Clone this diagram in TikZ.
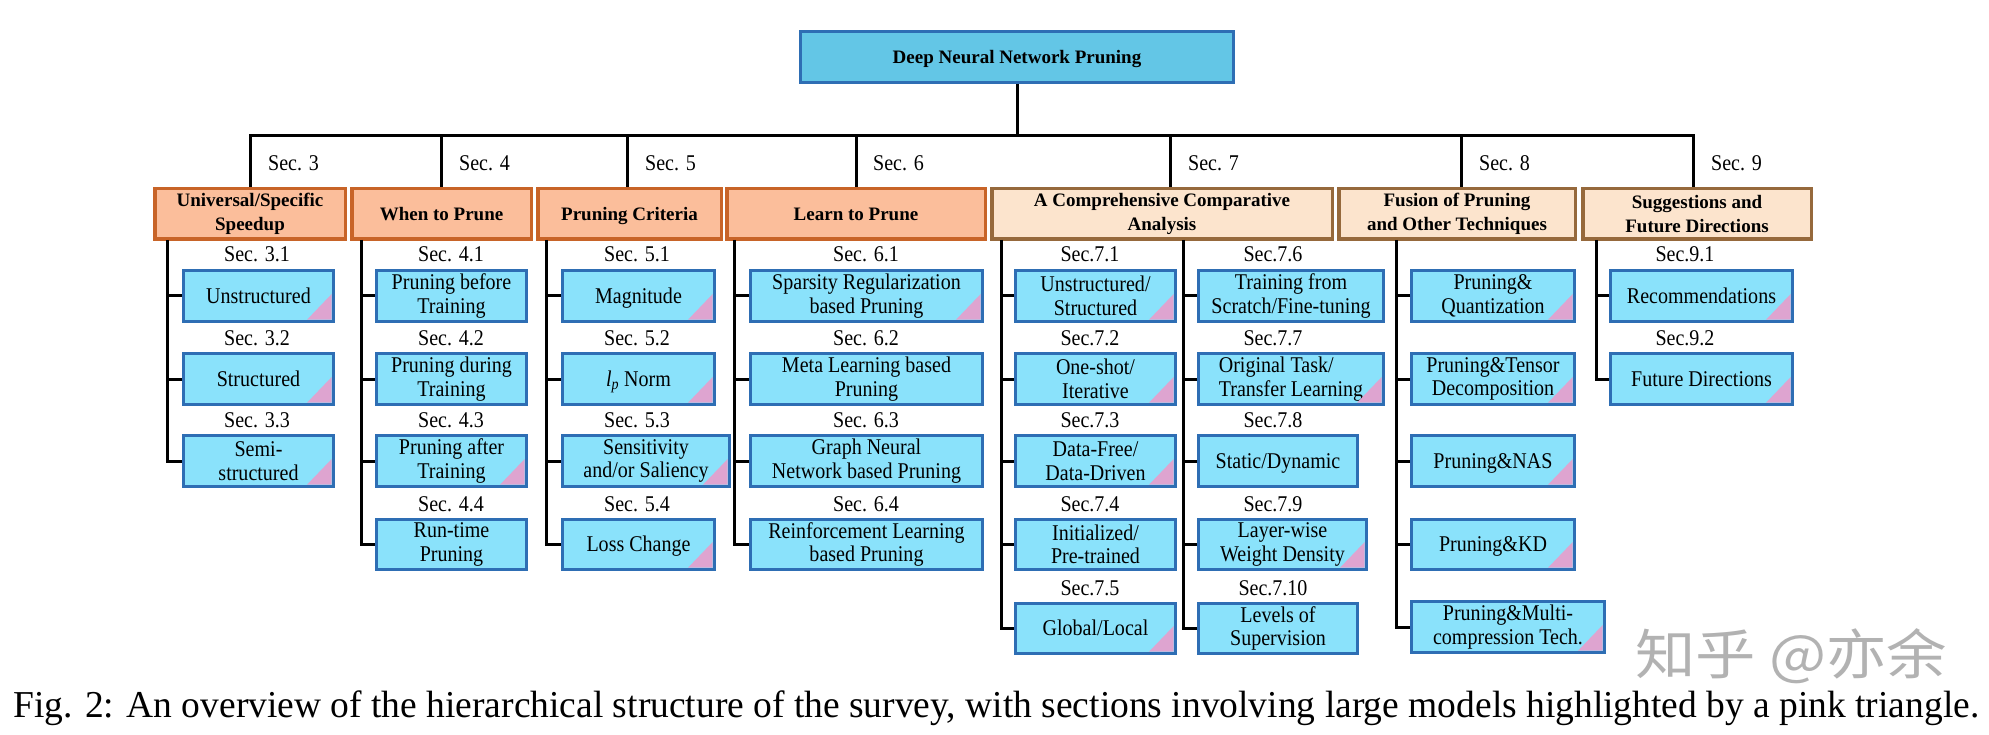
\documentclass[tikz,border=0pt]{standalone}
\usepackage{fontspec}
\usepackage{graphicx}
\setmainfont{Liberation Serif}
\newfontfamily\cf[FakeStretch=0.89]{Liberation Serif}
\newfontfamily\cjk{Noto Sans CJK SC}
\usetikzlibrary{calc}
\definecolor{cfill}{RGB}{138,226,251}
\definecolor{cbord}{RGB}{46,110,180}
\definecolor{rfill}{RGB}{99,198,230}
\definecolor{hafill}{RGB}{251,190,155}
\definecolor{habord}{RGB}{200,100,40}
\definecolor{hbfill}{RGB}{252,228,205}
\definecolor{hbbord}{RGB}{150,105,60}
\definecolor{tricol}{RGB}{222,164,208}
\tikzset{
  child/.style={draw=cbord, fill=cfill, line width=3.3pt, inner sep=0pt, align=center,
    font=\cf\fontsize{22.5}{23.5}\selectfont},
  one/.style={text height=15.5pt, text depth=1pt},
  seclab/.style={anchor=base, inner sep=0pt, font=\cf\fontsize{22.5}{24}\selectfont},
  toplab/.style={anchor=base west, inner sep=0pt, font=\cf\fontsize{22.5}{24}\selectfont},
  hdra/.style={draw=habord, fill=hafill, line width=3.5pt, inner sep=0pt, align=center,
    font=\bfseries\fontsize{19}{24}\selectfont},
  hdrb/.style={hdra, draw=hbbord, fill=hbfill},
  hone/.style={text height=13pt, text depth=0pt},
  rootbox/.style={draw=cbord, fill=rfill, line width=3pt, inner sep=0pt,
    font=\bfseries\fontsize{19}{24}\selectfont},
  conn/.style={line width=3pt, black}
}
% child box: [opts]{name}{left}{right}{top}{bottom}{text}
\newcommand\cbx[7][]{\node[child,#1,minimum width={#4-#3-3.3},minimum height={#6-#5-3.3}] (#2) at ({(#3+#4)/2},{(#5+#6)/2}) {#7};}
% header box: [style]{name}{left}{right}{text}
\newcommand\hbx[5][hdra]{\node[#1,minimum width={#4-#3-3.5},minimum height={50.5}] (#2) at ({(#3+#4)/2},214) {#5};}
\newcommand\ptri[1]{\fill[tricol] ([shift={(-28pt,3.3pt)}]#1.south east) -- ([shift={(-3.3pt,3.3pt)}]#1.south east) -- ([shift={(-3.3pt,29pt)}]#1.south east) -- cycle;}
\newcommand\seclbl[4]{\node[seclab] (#1) at (#2,#3) {#4};}
\begin{document}
\begin{tikzpicture}[x=1pt,y=-1pt]
\useasboundingbox (0,0) rectangle (1989,735);
\fill[white] (0,0) rectangle (1989,735);

% root
\node[rootbox, hone, minimum width=433, minimum height=51] (root) at (1017,57) {Deep Neural Network Pruning};

% headers
\hbx{h1}{153}{347}{Universal/Specific\\Speedup}
\hbx[hdra,hone]{h2}{350}{533}{When to Prune}
\hbx[hdra,hone]{h3}{536}{723}{Pruning Criteria}
\hbx[hdra,hone]{h4}{725}{987}{Learn to Prune}
\hbx[hdrb]{h5}{990}{1334}{A Comprehensive Comparative\\Analysis}
\hbx[hdrb]{h6}{1337}{1577}{Fusion of Pruning\\and Other Techniques}
\hbx[hdrb]{h7}{1581}{1813}{Suggestions and\\Future Directions}

% top connectors
\coordinate (hb) at (0,136);
\draw[conn] (root.south) -- (root.south |- hb);
\draw[conn] (h1.north) -- (h1.north |- hb) -- ([xshift=-4pt]h7.north |- hb) -- ([xshift=-4pt]h7.north);
\draw[conn] (h2.north) -- (h2.north |- hb);
\draw[conn] ([xshift=-2pt]h3.north) -- ([xshift=-2pt]h3.north |- hb);
\draw[conn] (h4.north) -- (h4.north |- hb);
\draw[conn] ([xshift=8pt]h5.north) -- ([xshift=8pt]h5.north |- hb);
\draw[conn] ([xshift=4pt]h6.north) -- ([xshift=4pt]h6.north |- hb);

\node[toplab] (s3) at (268,171) {Sec. 3};
\node[toplab] (s4) at (459,171) {Sec. 4};
\node[toplab] (s5) at (645,171) {Sec. 5};
\node[toplab] (s6) at (873,171) {Sec. 6};
\node[toplab] (s7) at (1188,171) {Sec. 7};
\node[toplab] (s8) at (1479,171) {Sec. 8};
\node[toplab] (s9) at (1711,171) {Sec. 9};

% column 1
\seclbl{l31}{257}{262}{Sec. 3.1}
\seclbl{l32}{257}{345}{Sec. 3.2}
\seclbl{l33}{257}{427}{Sec. 3.3}
\cbx[one]{c11}{182}{335}{269}{323}{Unstructured}
\cbx[one]{c12}{182}{335}{352}{406}{Structured}
\cbx{c13}{182}{335}{434}{488}{Semi-\\structured}
\ptri{c11}\ptri{c12}\ptri{c13}

% column 2
\seclbl{l41}{451}{262}{Sec. 4.1}
\seclbl{l42}{451}{345}{Sec. 4.2}
\seclbl{l43}{451}{427}{Sec. 4.3}
\seclbl{l44}{451}{511}{Sec. 4.4}
\cbx{c21}{375}{528}{269}{323}{Pruning before\\Training}
\cbx{c22}{375}{528}{352}{406}{Pruning during\\Training}
\cbx{c23}{375}{528}{434}{488}{Pruning after\\Training}
\cbx{c24}{375}{528}{518}{571}{Run-time\\Pruning}
\ptri{c23}

% column 3
\seclbl{l51}{637}{262}{Sec. 5.1}
\seclbl{l52}{637}{345}{Sec. 5.2}
\seclbl{l53}{637}{427}{Sec. 5.3}
\seclbl{l54}{637}{511}{Sec. 5.4}
\cbx[one]{c31}{561}{716}{269}{323}{Magnitude}
\cbx[one]{c32}{561}{716}{352}{406}{\textit{l}\textsubscript{\textit{p}} Norm}
\cbx{c33}{561}{731}{434}{488}{Sensitivity\\and/or Saliency}
\cbx[one]{c34}{561}{716}{518}{571}{Loss Change}
\ptri{c31}\ptri{c32}\ptri{c33}\ptri{c34}

% column 4
\seclbl{l61}{866}{262}{Sec. 6.1}
\seclbl{l62}{866}{345}{Sec. 6.2}
\seclbl{l63}{866}{427}{Sec. 6.3}
\seclbl{l64}{866}{511}{Sec. 6.4}
\cbx{c41}{749}{984}{269}{323}{Sparsity Regularization\\based Pruning}
\cbx{c42}{749}{984}{352}{406}{Meta Learning based\\Pruning}
\cbx{c43}{749}{984}{434}{488}{Graph Neural\\Network based Pruning}
\cbx{c44}{749}{984}{518}{571}{Reinforcement Learning\\based Pruning}
\ptri{c41}

% column 5a
\seclbl{l71}{1090}{262}{Sec.7.1}
\seclbl{l72}{1090}{345}{Sec.7.2}
\seclbl{l73}{1090}{427}{Sec.7.3}
\seclbl{l74}{1090}{511}{Sec.7.4}
\seclbl{l75}{1090}{595}{Sec.7.5}
\cbx{c51}{1014}{1177}{269}{323}{Unstructured/\\Structured}
\cbx{c52}{1014}{1177}{352}{406}{One-shot/\\Iterative}
\cbx{c53}{1014}{1177}{434}{488}{Data-Free/\\Data-Driven}
\cbx{c54}{1014}{1177}{518}{571}{Initialized/\\Pre-trained}
\cbx[one]{c55}{1014}{1177}{602}{655}{Global/Local}
\ptri{c51}\ptri{c52}\ptri{c53}\ptri{c55}

% column 5b
\seclbl{l76}{1273}{262}{Sec.7.6}
\seclbl{l77}{1273}{345}{Sec.7.7}
\seclbl{l78}{1273}{427}{Sec.7.8}
\seclbl{l79}{1273}{511}{Sec.7.9}
\seclbl{l710}{1273}{595}{Sec.7.10}
\cbx{c56}{1197}{1385}{269}{323}{Training from\\Scratch/Fine-tuning}
\cbx[align=left]{c57}{1197}{1385}{352}{406}{Original Task/\\Transfer Learning}
\cbx[one]{c58}{1197}{1359}{434}{488}{Static/Dynamic}
\cbx{c59}{1197}{1368}{518}{571}{Layer-wise\\Weight Density}
\cbx{c510}{1197}{1359}{602}{655}{Levels of\\Supervision}
\ptri{c57}\ptri{c59}

% column 6
\cbx{c61}{1410}{1576}{269}{323}{Pruning\&\\Quantization}
\cbx{c62}{1410}{1576}{352}{406}{Pruning\&Tensor\\Decomposition}
\cbx[one]{c63}{1410}{1576}{434}{488}{Pruning\&NAS}
\cbx[one]{c64}{1410}{1576}{518}{571}{Pruning\&KD}
\cbx{c65}{1410}{1606}{600}{654}{Pruning\&Multi-\\compression Tech.}
\ptri{c61}\ptri{c62}\ptri{c63}\ptri{c64}\ptri{c65}

% column 7
\seclbl{l91}{1685}{262}{Sec.9.1}
\seclbl{l92}{1685}{345}{Sec.9.2}
\cbx[one]{c71}{1609}{1794}{269}{323}{Recommendations}
\cbx[one]{c72}{1609}{1794}{352}{406}{Future Directions}
\ptri{c71}\ptri{c72}

% column connectors
\coordinate (v1) at (167,0);
\coordinate (v2) at (361,0);
\coordinate (v3) at (546,0);
\coordinate (v4) at (734,0);
\coordinate (v5) at (1001,0);
\coordinate (v6) at (1183,0);
\coordinate (v7) at (1396,0);
\coordinate (v8) at (1596,0);
\draw[conn] ([yshift=1pt]h1.south -| v1) |- (c13.west);
\foreach \n in {c11,c12} \draw[conn] (\n.west) -- (\n.west -| v1);
\draw[conn] ([yshift=1pt]h2.south -| v2) |- (c24.west);
\foreach \n in {c21,c22,c23} \draw[conn] (\n.west) -- (\n.west -| v2);
\draw[conn] ([yshift=1pt]h3.south -| v3) |- (c34.west);
\foreach \n in {c31,c32,c33} \draw[conn] (\n.west) -- (\n.west -| v3);
\draw[conn] ([yshift=1pt]h4.south -| v4) |- (c44.west);
\foreach \n in {c41,c42,c43} \draw[conn] (\n.west) -- (\n.west -| v4);
\draw[conn] ([yshift=1pt]h5.south -| v5) |- (c55.west);
\foreach \n in {c51,c52,c53,c54} \draw[conn] (\n.west) -- (\n.west -| v5);
\draw[conn] ([yshift=1pt]h5.south -| v6) |- (c510.west);
\foreach \n in {c56,c57,c58,c59} \draw[conn] (\n.west) -- (\n.west -| v6);
\draw[conn] ([yshift=1pt]h6.south -| v7) |- (c65.west);
\foreach \n in {c61,c62,c63,c64} \draw[conn] (\n.west) -- (\n.west -| v7);
\draw[conn] ([yshift=1pt]h7.south -| v8) |- (c72.west);
\draw[conn] (c71.west) -- (c71.west -| v8);

% watermark
\node[anchor=south west, inner sep=0pt, text=black!30] (wm) at (1635,684)
  {\resizebox{312pt}{\height}{\cjk\fontsize{54}{60}\selectfont 知乎 @亦余}};

% caption
\node[anchor=base west, inner sep=0pt] (cap) at (13,717)
  {\resizebox{1966pt}{\height}{\fontsize{38}{44}\selectfont Fig. 2: An overview of the hierarchical structure of the survey, with sections involving large models highlighted by a pink triangle.}};
\end{tikzpicture}
\end{document}
